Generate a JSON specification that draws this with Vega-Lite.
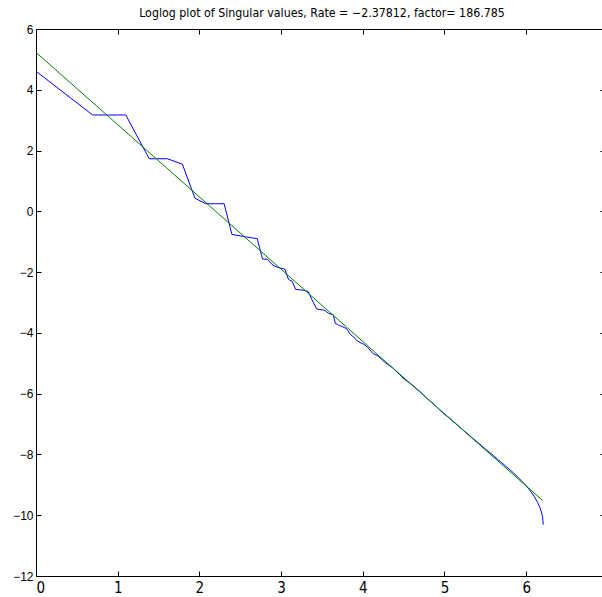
{
  "$schema": "https://vega.github.io/schema/vega-lite/v6.json",
  "width": 566,
  "height": 547,
  "autosize": {"type": "none"},
  "padding": {"left": 36, "top": 29, "right": 0, "bottom": 21},
  "background": "white",
  "title": {
    "text": "Loglog plot of Singular values, Rate = −2.37812, factor= 186.785",
    "font": "Liberation Sans Narrow, DejaVu Sans Condensed, sans-serif",
    "fontSize": 12.3,
    "fontWeight": "normal",
    "color": "black",
    "frame": "group",
    "anchor": "middle",
    "baseline": "alphabetic",
    "offset": -6,
    "dx": 3
  },
  "config": {
    "view": {"stroke": null},
    "axis": {
      "grid": false,
      "title": null,
      "domainColor": "black",
      "domainWidth": 1,
      "tickColor": "black",
      "tickWidth": 1,
      "labelColor": "black",
      "labelFont": "Liberation Sans Narrow, DejaVu Sans Condensed, sans-serif"
    }
  },
  "datasets": {
    "sv": [
      {"x": 0, "y": 4.61},
      {"x": 0.693, "y": 3.17},
      {"x": 1.099, "y": 3.17},
      {"x": 1.386, "y": 1.73},
      {"x": 1.609, "y": 1.73},
      {"x": 1.792, "y": 1.55},
      {"x": 1.946, "y": 0.43},
      {"x": 2.079, "y": 0.25},
      {"x": 2.197, "y": 0.25},
      {"x": 2.303, "y": 0.25},
      {"x": 2.398, "y": -0.76},
      {"x": 2.485, "y": -0.8},
      {"x": 2.565, "y": -0.84},
      {"x": 2.639, "y": -0.87},
      {"x": 2.708, "y": -0.9},
      {"x": 2.773, "y": -1.57},
      {"x": 2.833, "y": -1.58},
      {"x": 2.89, "y": -1.75},
      {"x": 2.944, "y": -1.83},
      {"x": 2.996, "y": -1.87},
      {"x": 3.045, "y": -1.9},
      {"x": 3.091, "y": -2.24},
      {"x": 3.135, "y": -2.3},
      {"x": 3.178, "y": -2.57},
      {"x": 3.219, "y": -2.58},
      {"x": 3.258, "y": -2.59},
      {"x": 3.296, "y": -2.61},
      {"x": 3.332, "y": -2.64},
      {"x": 3.367, "y": -2.85},
      {"x": 3.434, "y": -3.21},
      {"x": 3.466, "y": -3.23},
      {"x": 3.497, "y": -3.24},
      {"x": 3.526, "y": -3.25},
      {"x": 3.555, "y": -3.3},
      {"x": 3.584, "y": -3.36},
      {"x": 3.611, "y": -3.38},
      {"x": 3.638, "y": -3.4},
      {"x": 3.664, "y": -3.69},
      {"x": 3.689, "y": -3.72},
      {"x": 3.714, "y": -3.76},
      {"x": 3.738, "y": -3.78},
      {"x": 3.784, "y": -3.84},
      {"x": 3.807, "y": -3.88},
      {"x": 3.847, "y": -4.05},
      {"x": 3.871, "y": -4.1},
      {"x": 3.892, "y": -4.14},
      {"x": 3.912, "y": -4.21},
      {"x": 3.932, "y": -4.26},
      {"x": 3.97, "y": -4.32},
      {"x": 4.007, "y": -4.37},
      {"x": 4.025, "y": -4.4},
      {"x": 4.06, "y": -4.48},
      {"x": 4.09, "y": -4.57},
      {"x": 4.127, "y": -4.68},
      {"x": 4.159, "y": -4.72},
      {"x": 4.19, "y": -4.77},
      {"x": 4.234, "y": -4.88},
      {"x": 4.277, "y": -4.98},
      {"x": 4.317, "y": -5.06},
      {"x": 4.357, "y": -5.13},
      {"x": 4.407, "y": -5.26},
      {"x": 4.454, "y": -5.38},
      {"x": 4.51, "y": -5.53},
      {"x": 4.564, "y": -5.63},
      {"x": 4.61, "y": -5.72},
      {"x": 4.654, "y": -5.83},
      {"x": 4.7, "y": -5.93},
      {"x": 4.745, "y": -6.05},
      {"x": 4.779, "y": -6.14},
      {"x": 4.82, "y": -6.24},
      {"x": 4.86, "y": -6.33},
      {"x": 4.898, "y": -6.42},
      {"x": 4.94, "y": -6.53},
      {"x": 4.98, "y": -6.63},
      {"x": 5.02, "y": -6.72},
      {"x": 5.06, "y": -6.8},
      {"x": 5.1, "y": -6.9},
      {"x": 5.14, "y": -6.98},
      {"x": 5.18, "y": -7.09},
      {"x": 5.22, "y": -7.18},
      {"x": 5.26, "y": -7.27},
      {"x": 5.3, "y": -7.36},
      {"x": 5.35, "y": -7.48},
      {"x": 5.4, "y": -7.59},
      {"x": 5.45, "y": -7.7},
      {"x": 5.5, "y": -7.82},
      {"x": 5.55, "y": -7.93},
      {"x": 5.6, "y": -8.04},
      {"x": 5.65, "y": -8.16},
      {"x": 5.7, "y": -8.27},
      {"x": 5.75, "y": -8.39},
      {"x": 5.8, "y": -8.5},
      {"x": 5.85, "y": -8.62},
      {"x": 5.9, "y": -8.75},
      {"x": 5.95, "y": -8.89},
      {"x": 6.0, "y": -9.03},
      {"x": 6.05, "y": -9.2},
      {"x": 6.1, "y": -9.39},
      {"x": 6.14, "y": -9.58},
      {"x": 6.17, "y": -9.76},
      {"x": 6.19, "y": -9.93},
      {"x": 6.2, "y": -10.05},
      {"x": 6.205, "y": -10.18},
      {"x": 6.208, "y": -10.31}
    ],
    "fit": [
      {"x": 0, "y": 5.23},
      {"x": 6.2, "y": -9.514}
    ]
  },
  "layer": [
    {
      "data": {"name": "sv"},
      "mark": {"type": "line", "color": "#0000ff", "strokeWidth": 1},
      "encoding": {
        "x": {
          "field": "x", "type": "quantitative",
          "scale": {"domain": [0, 6.928], "nice": false, "zero": false},
          "axis": {"orient": "bottom", "values": [0, 1, 2, 3, 4, 5, 6], "tickSize": -5, "labelFontSize": 15, "labelPadding": 9}
        },
        "y": {
          "field": "y", "type": "quantitative",
          "scale": {"domain": [-12, 6], "nice": false, "zero": false},
          "axis": {"orient": "left", "values": [-12, -10, -8, -6, -4, -2, 0, 2, 4, 6], "tickSize": -5, "labelFontSize": 12, "labelPadding": 8, "labelFont": "Liberation Sans, Arial, sans-serif"}
        }
      }
    },
    {
      "data": {"name": "fit"},
      "mark": {"type": "line", "color": "#008000", "strokeWidth": 1},
      "encoding": {
        "x": {
          "field": "x", "type": "quantitative",
          "axis": {"orient": "top", "values": [0, 1, 2, 3, 4, 5, 6], "tickSize": -5, "labels": false}
        },
        "y": {
          "field": "y", "type": "quantitative",
          "axis": {"orient": "right", "values": [-12, -10, -8, -6, -4, -2, 0, 2, 4, 6], "tickSize": -2, "labels": false, "domain": false}
        }
      }
    }
  ]
}
